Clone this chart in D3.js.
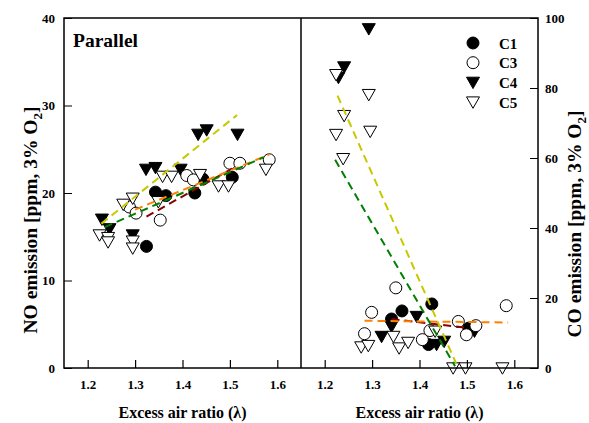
<!DOCTYPE html>
<html>
<head>
<meta charset="utf-8">
<script src="https://cdn.jsdelivr.net/npm/d3@7"></script>
<style>
  body { margin: 0; background: #fff; }
  svg text { font-family: "Liberation Serif", "Times New Roman", serif; font-weight: bold; }
</style>
</head>
<body>
<svg id="chart" width="589" height="423"></svg>
<script>
// excess air ratio / emission readings, one pair of arrays per case
var noC1x = [1.324, 1.343, 1.365, 1.426, 1.443, 1.505];
var noC1y = [13.9, 20.1, 19.7, 20.0, 21.6, 21.8];
var noC3x = [1.288, 1.302, 1.353, 1.409, 1.423, 1.500, 1.521, 1.583];
var noC3y = [18.4, 17.7, 16.9, 22.0, 21.5, 23.4, 23.4, 23.8];
var noC4x = [1.230, 1.246, 1.295, 1.323, 1.343, 1.396, 1.433, 1.451, 1.516];
var noC4y = [17.0, 15.9, 15.2, 22.7, 22.9, 22.7, 26.7, 27.2, 26.7];
var noC5x = [1.225, 1.243, 1.243, 1.295, 1.295, 1.275, 1.295, 1.349, 1.358, 1.377, 1.437, 1.476, 1.497, 1.576];
var noC5y = [15.2, 14.9, 14.4, 14.5, 13.7, 18.7, 19.4, 19.0, 21.9, 21.9, 22.1, 20.8, 20.8, 22.7];

var coC1x = [1.341, 1.363, 1.419, 1.426, 1.504];
var coC1y = [14.0, 16.3, 6.7, 18.3, 11.4];
var coC3x = [1.284, 1.299, 1.350, 1.406, 1.422, 1.482, 1.499, 1.519, 1.583];
var coC3y = [9.8, 15.9, 22.9, 8.1, 10.7, 13.3, 9.5, 12.1, 17.8];
var coC4x = [1.229, 1.241, 1.293, 1.320, 1.341, 1.394, 1.436, 1.452, 1.516];
var coC4y = [83.0, 86.0, 96.9, 9.0, 11.9, 14.7, 6.7, 7.6, 10.5];
var coC5x = [1.224, 1.224, 1.239, 1.241, 1.293, 1.296, 1.277, 1.292, 1.345, 1.357, 1.376, 1.433, 1.471, 1.497, 1.575];
var coC5y = [83.8, 66.7, 59.8, 72.1, 78.1, 67.6, 6.0, 6.4, 9.0, 5.7, 7.3, 10.5, 0, 0, 0];

// trend line end points [x0, y0, x1, y1]
var noFitC1 = [1.324, 17.3, 1.505, 22.8];
var noFitC3 = [1.300, 18.1, 1.583, 24.4];
var noFitC4 = [1.229, 16.5, 1.515, 28.9];
var noFitC5 = [1.236, 16.1, 1.572, 24.1];
var coFitC1 = [1.341, 14.0, 1.505, 11.4];
var coFitC3 = [1.284, 13.5, 1.587, 13.0];
var coFitC4 = [1.227, 77.8, 1.477, 1.4];
var coFitC5 = [1.222, 59.5, 1.475, 0.5];

var xTicks = [1.2, 1.3, 1.4, 1.5, 1.6];
var noTicks = [0, 10, 20, 30, 40];
var coTicks = [0, 20, 40, 60, 80, 100];
var caseNames = ['C1', 'C3', 'C4', 'C5'];

var svg = d3.select('#chart');
var plotTop = 18, plotBottom = 368;

var xLeft = d3.scaleLinear().domain([1.15, 1.65]).range([64, 301]);
var xRight = d3.scaleLinear().domain([1.15, 1.65]).range([301, 538]);
var yNo = d3.scaleLinear().domain([0, 40]).range([plotBottom, plotTop]);
var yCo = d3.scaleLinear().domain([0, 100]).range([plotBottom, plotTop]);

function zip(xs, ys){
    return xs.map(function(x, i){ return [x, ys[i]]; });
}

// marker shapes
var markStyle = {
    C1: {shape: 'circle', fill: '#000'},
    C3: {shape: 'circle', fill: '#fff'},
    C4: {shape: 'tri', fill: '#000'},
    C5: {shape: 'tri', fill: '#fff'}
};
var triPath = 'M-6.5,-5.2L6.5,-5.2L0,6.2Z';

function drawMarks(g, pts, name, x, y){
    var st = markStyle[name];
    var sel = g.append('g').selectAll('.m').data(pts).enter();
    if(st.shape === 'circle'){
        sel.append('circle')
            .attr('cx', function(d){ return x(d[0]); })
            .attr('cy', function(d){ return y(d[1]); })
            .attr('r', 6)
            .attr('fill', st.fill).attr('stroke', '#000').attr('stroke-width', 1);
    }
    else{
        sel.append('path')
            .attr('d', triPath)
            .attr('transform', function(d){ return 'translate(' + x(d[0]) + ',' + y(d[1]) + ')'; })
            .attr('fill', st.fill).attr('stroke', '#000').attr('stroke-width', 1);
    }
}

function drawFit(g, f, color, x, y){
    g.append('line')
        .attr('x1', x(f[0])).attr('y1', y(f[1]))
        .attr('x2', x(f[2])).attr('y2', y(f[3]))
        .attr('stroke', color).attr('stroke-width', 2)
        .attr('stroke-dasharray', '8,5');
}

function drawPanel(x, y, sets, fits){
    var g = svg.append('g');
    drawMarks(g, zip(sets[0][0], sets[0][1]), 'C1', x, y);
    drawMarks(g, zip(sets[2][0], sets[2][1]), 'C4', x, y);
    drawMarks(g, zip(sets[1][0], sets[1][1]), 'C3', x, y);
    drawMarks(g, zip(sets[3][0], sets[3][1]), 'C5', x, y);

    drawFit(g, fits[0], '#8b0000', x, y);
    drawFit(g, fits[1], '#ff8000', x, y);
    drawFit(g, fits[2], '#c8c800', x, y);
    drawFit(g, fits[3], '#008000', x, y);

    // bottom axis, ticks pointing inward
    var ax = svg.append('g')
        .attr('transform', 'translate(0,' + plotBottom + ')')
        .call(d3.axisBottom(x).tickValues(xTicks).tickSizeInner(-8).tickSizeOuter(0).tickPadding(12)
            .tickFormat(d3.format('.1f')));
    ax.select('.domain').remove();
    ax.selectAll('line').attr('stroke-width', 1.2);
    ax.selectAll('text').attr('font-size', 13);
}

drawPanel(xLeft, yNo, [[noC1x, noC1y], [noC3x, noC3y], [noC4x, noC4y], [noC5x, noC5y]],
    [noFitC1, noFitC3, noFitC4, noFitC5]);
drawPanel(xRight, yCo, [[coC1x, coC1y], [coC3x, coC3y], [coC4x, coC4y], [coC5x, coC5y]],
    [coFitC1, coFitC3, coFitC4, coFitC5]);

// y axes
var ay = svg.append('g').attr('transform', 'translate(64,0)')
    .call(d3.axisLeft(yNo).tickValues(noTicks).tickSizeInner(-8).tickSizeOuter(0).tickPadding(9));
ay.select('.domain').remove();
ay.selectAll('text').attr('font-size', 13);

var ay2 = svg.append('g').attr('transform', 'translate(538,0)')
    .call(d3.axisRight(yCo).tickValues(coTicks).tickSizeInner(-8).tickSizeOuter(0).tickPadding(7));
ay2.select('.domain').remove();
ay2.selectAll('text').attr('font-size', 13);

// frames
svg.append('rect').attr('x', 64).attr('y', plotTop).attr('width', 474).attr('height', plotBottom - plotTop)
    .attr('fill', 'none').attr('stroke', '#000').attr('stroke-width', 1.5);
svg.append('line').attr('x1', 301).attr('x2', 301).attr('y1', plotTop).attr('y2', plotBottom)
    .attr('stroke', '#000').attr('stroke-width', 1.5);

// texts
svg.append('text').attr('x', 73).attr('y', 47).attr('font-size', 19.5).text('Parallel');

svg.append('text').attr('x', d3.mean(xLeft.range())).attr('y', 418)
    .attr('text-anchor', 'middle').attr('font-size', 16).text('Excess air ratio (\u03bb)');
svg.append('text').attr('x', d3.mean(xRight.range())).attr('y', 418)
    .attr('text-anchor', 'middle').attr('font-size', 16).text('Excess air ratio (\u03bb)');

function yTitle(cx, cy, label){
    var t = svg.append('text')
        .attr('transform', 'translate(' + cx + ',' + cy + ') rotate(-90)')
        .attr('text-anchor', 'middle').attr('font-size', 19.5);
    t.append('tspan').text(label + ' [ppm, 3% O');
    t.append('tspan').attr('dy', 5).attr('font-size', 13).text('2');
    t.append('tspan').attr('dy', -5).text(']');
}
yTitle(37, 220, 'NO emission');
yTitle(581, 224, 'CO emission');

// legend
var legend = svg.append('g');
caseNames.forEach(function(name, i){
    var ly = 43 + i * 19.7;
    drawMarks(legend, [[0, 0]], name,
        function(){ return 473; }, function(){ return ly; });
    legend.append('text').attr('x', 499).attr('y', ly + 5.5).attr('font-size', 15).text(name);
});
</script>
</body>
</html>
